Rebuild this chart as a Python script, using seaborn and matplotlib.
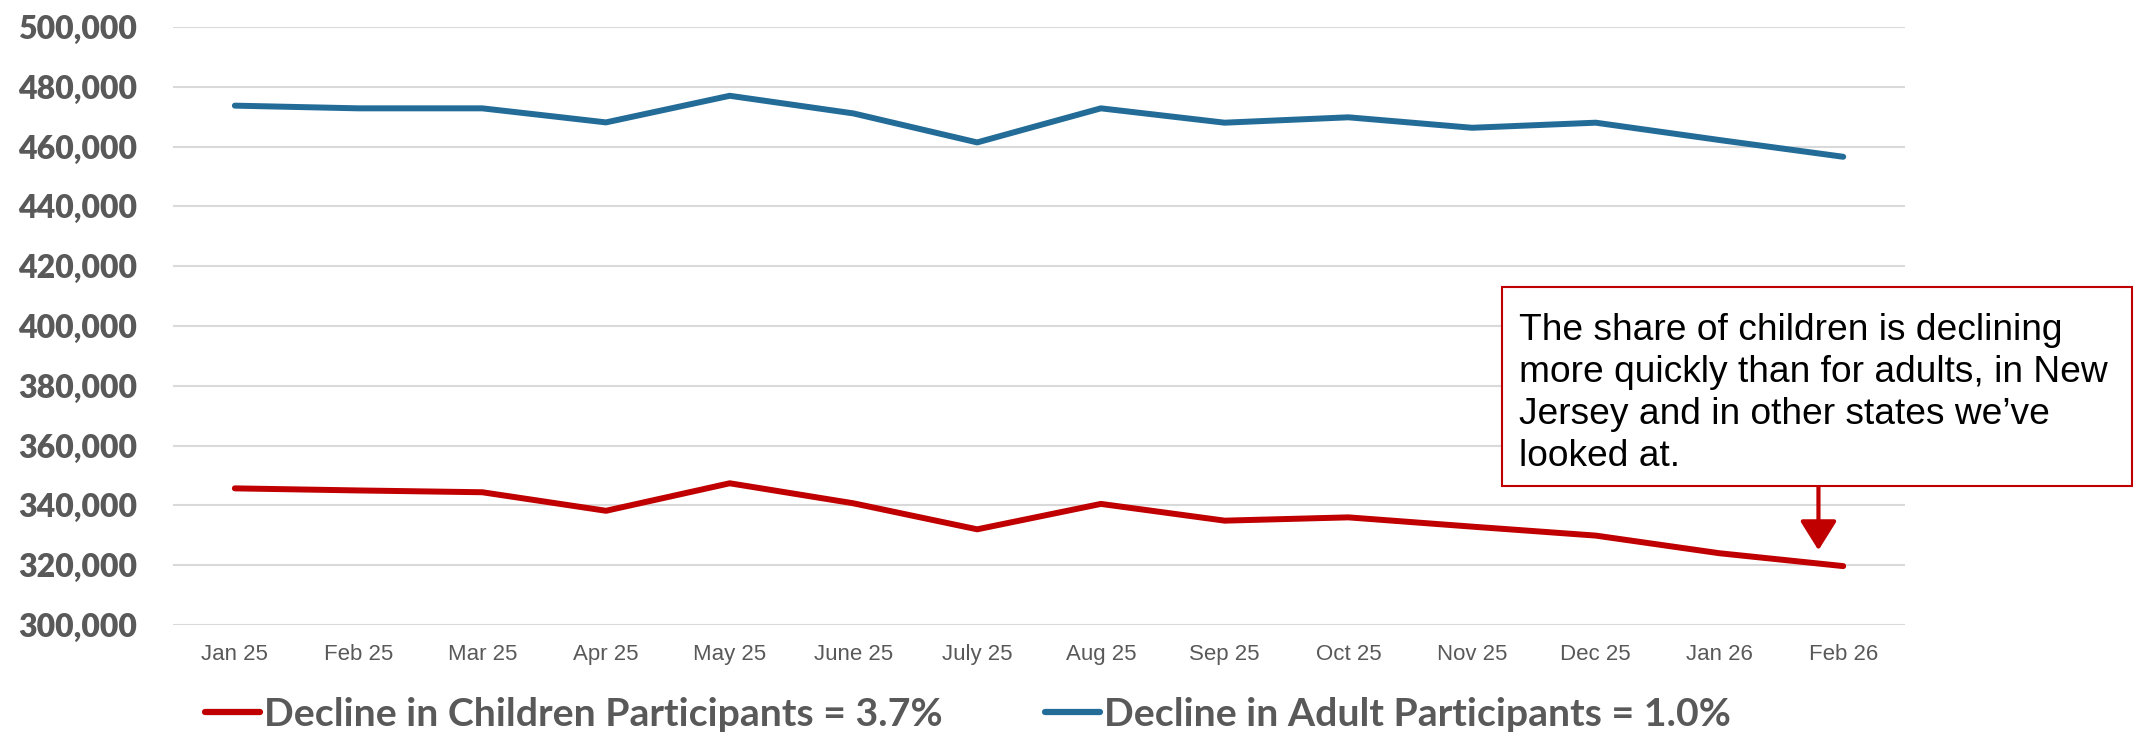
import matplotlib
matplotlib.use("Agg")
import matplotlib.pyplot as plt
from matplotlib.patches import Rectangle
from matplotlib.ticker import FuncFormatter
import seaborn as sns
import pandas as pd

# Monthly participants (NJ)
months = ["Jan 25", "Feb 25", "Mar 25", "Apr 25", "May 25", "June 25", "July 25",
          "Aug 25", "Sep 25", "Oct 25", "Nov 25", "Dec 25", "Jan 26", "Feb 26"]
children = [345700, 345000, 344400, 338200, 347400, 340700, 332000,
            340500, 334900, 336000, 332900, 329900, 324000, 319700]
adults = [473700, 472800, 472800, 468100, 477000, 471100, 461400,
          472800, 468000, 469800, 466300, 468000, 462200, 456600]

children_label = "Decline in Children Participants = 3.7%"
adults_label = "Decline in Adult Participants = 1.0%"
note = ("The share of children is declining\n"
        "more quickly than for adults, in New\n"
        "Jersey and in other states we\u2019ve\n"
        "looked at.")

RED = "#C00000"
BLUE = "#236C98"
GREY_TXT = "#595959"
GRID = "#D9D9D9"

sns.set_theme(style="white")
plt.rcParams["font.family"] = ["Liberation Sans", "DejaVu Sans"]
plt.rcParams["ytick.major.pad"] = 26
plt.rcParams["xtick.major.pad"] = 14

df = pd.DataFrame({"month": months, "children": children, "adults": adults})
df["pos"] = range(len(months))

fig = plt.figure(figsize=(21.41, 7.34), dpi=100)
ax = fig.add_axes([0.0808, 0.1485, 0.8090, 0.8147])

sns.lineplot(data=df, x="pos", y="children", ax=ax, color=RED, linewidth=4.3,
             solid_capstyle="round", label=children_label, legend=False)
sns.lineplot(data=df, x="pos", y="adults", ax=ax, color=BLUE, linewidth=4.3,
             solid_capstyle="round", label=adults_label, legend=False)

ax.set_xlim(-0.5, len(months) - 0.5)
ax.set_ylim(300000, 500000)
ax.set_yticks(range(300000, 500001, 20000))
ax.yaxis.set_major_formatter(FuncFormatter(lambda v, p: f"{int(v):,}"))
ax.set_xticks(df["pos"])
ax.set_xticklabels(months)
ax.set_xlabel("")
ax.set_ylabel("")

ax.grid(axis="y", color=GRID, linewidth=1.5)
ax.grid(axis="x", visible=False)
ax.set_axisbelow(True)
for s in ax.spines.values():
    s.set_visible(False)
ax.tick_params(axis="both", length=0)
ax.tick_params(axis="y", labelsize=23, labelcolor=GREY_TXT, pad=26)
ax.tick_params(axis="x", labelsize=16, labelcolor=GREY_TXT, pad=14)
for lab in ax.get_yticklabels():
    lab.set_fontfamily(["Lato", "DejaVu Sans"])
    lab.set_fontweight("heavy")

# Legend along the bottom
handles, labels = ax.get_legend_handles_labels()
leg = fig.legend(handles, labels, loc="center", bbox_to_anchor=(0.452, 0.027),
                 ncol=2, frameon=False, handlelength=1.4, handletextpad=0.1,
                 columnspacing=2.6,
                 prop={"family": ["Lato", "DejaVu Sans"], "weight": "bold", "size": 28.3})
for t in leg.get_texts():
    t.set_color(GREY_TXT)
for h in leg.get_lines():
    h.set_linewidth(4.5)
    h.set_solid_capstyle("round")

# Callout box
fig.patches.append(Rectangle((0.7015, 0.3379), 0.2943, 0.2711,
                             transform=fig.transFigure, facecolor="white",
                             edgecolor=RED, linewidth=1.5, zorder=5))
fig.text(0.7095, 0.574, note, ha="left", va="top", fontsize=26.7, color="black",
         linespacing=1.26, zorder=6)

ax.annotate("", xy=(12.8, 325000), xycoords="data",
            xytext=(12.8, 0.3379), textcoords=("data", "figure fraction"),
            arrowprops=dict(arrowstyle="-|>,head_length=0.72,head_width=0.45",
                            mutation_scale=25, color=RED, lw=3,
                            shrinkA=0, shrinkB=0),
            annotation_clip=False)

fig.savefig("out.png", dpi=100)
